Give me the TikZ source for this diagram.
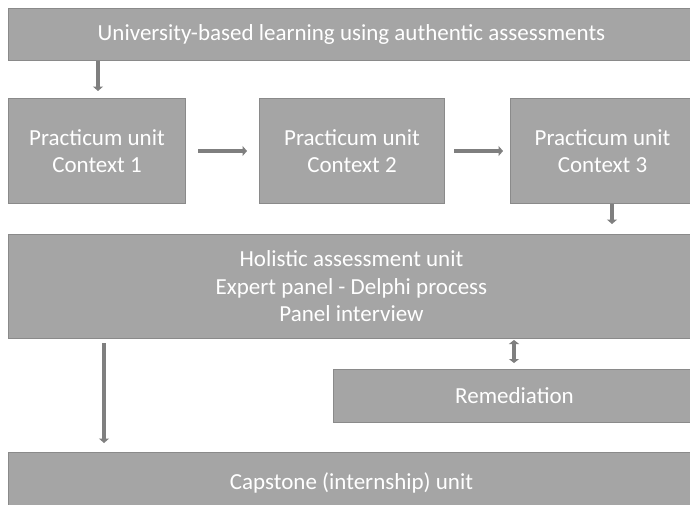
\documentclass[tikz,border=0pt]{standalone}
\usepackage{fontspec}
\setmainfont{Carlito}
\usetikzlibrary{arrows.meta}
\definecolor{boxfill}{HTML}{A5A5A5}
\definecolor{boxline}{HTML}{8A8A8A}
\definecolor{arrowgray}{HTML}{7F7F7F}
\tikzset{
  unit/.style={draw=boxline, line width=1pt, fill=boxfill, text=white,
    rectangle, anchor=north west, inner sep=0pt, align=center,
    font=\fontsize{23}{27.5}\selectfont},
  flow/.style={draw=arrowgray, line width=3.5pt,
    -{Triangle[width=10pt,length=4.5pt]}},
  twoway/.style={draw=arrowgray, line width=3.5pt,
    {Triangle[width=10pt,length=4pt]}-{Triangle[width=10pt,length=4pt]}}
}
\begin{document}
\begin{tikzpicture}[x=1pt,y=-1pt]
\useasboundingbox (0,0) rectangle (690,504);
\clip (0,0) rectangle (690,504);
\fill[white] (0,0) rectangle (690,504);

\node[unit, minimum width=686pt, minimum height=52pt] (uni) at (8,8)
  {University-based learning using authentic assessments};
\node[unit, minimum width=177pt, minimum height=105pt] (p1) at (8,98)
  {Practicum unit\\Context 1};
\node[unit, minimum width=185pt, minimum height=105pt] (p2) at (259,98)
  {Practicum unit\\Context 2};
\node[unit, minimum width=184pt, minimum height=105pt] (p3) at (510,98)
  {Practicum unit\\Context 3};
\node[unit, minimum width=686pt, minimum height=104pt] (hol) at (8,234)
  {Holistic assessment unit\\Expert panel - Delphi process\\Panel interview};
\node[unit, minimum width=362pt, minimum height=53pt] (rem) at (333,369)
  {Remediation};
\node[unit, minimum width=686pt, minimum height=60pt] (cap) at (8,452)
  {Capstone (internship) unit};

% connectors
\coordinate (a1s) at (98,61);
\draw[flow] (a1s) -- ([yshift=7pt]a1s |- p1.north);
\draw[flow] ([xshift=12pt]p1.east) -- ([xshift=-12pt]p2.west);
\draw[flow] ([xshift=9pt]p2.east) -- ([xshift=-7pt]p3.west);
\coordinate (a3s) at (612,204);
\draw[flow] (a3s) -- ([yshift=10pt]a3s |- hol.north);
\coordinate (rs) at (514,340);
\draw[twoway] (rs) -- ([yshift=6pt]rs |- rem.north);
\coordinate (cs) at (104,343);
\draw[flow] (cs) -- ([yshift=9pt]cs |- cap.north);
\end{tikzpicture}
\end{document}
